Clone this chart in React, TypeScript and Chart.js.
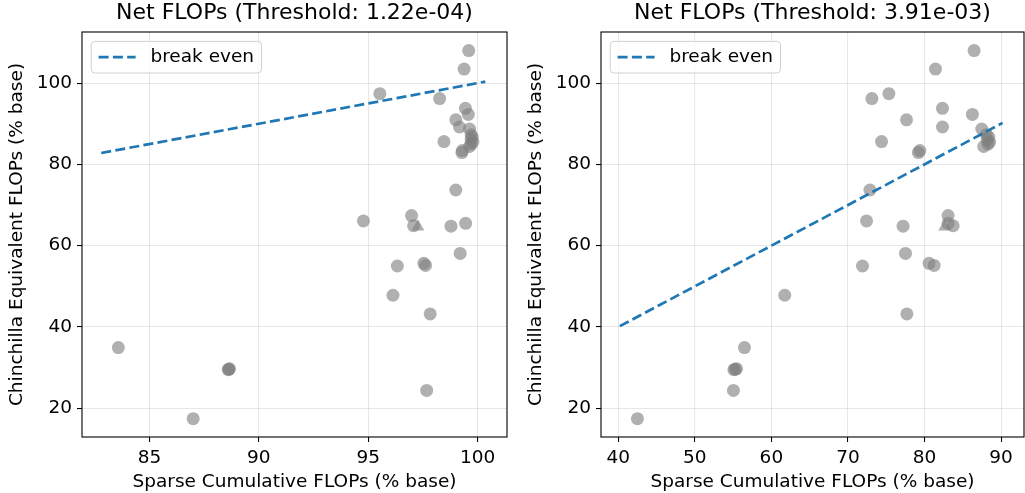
import React, { useEffect, useRef } from 'react';
import { Chart, registerables } from 'chart.js';

Chart.register(...registerables);

// Chinchilla equivalent FLOPs (% base) — shared by both panels
const chinchillaY = [
  108.0, 103.45, 97.4, 96.2, 93.8, 92.3, 90.96, 89.2, 88.7,
  87.3, 86.7, 86.1, 85.5, 85.0, 84.4, 85.6, 83.4, 82.9,
  73.7, 67.4, 66.1, 65.5, 64.9, 64.8, 58.1, 55.0, 55.65, 55.15,
  47.8, 43.2, 34.94, 29.5, 29.6, 29.7, 24.4, 17.44,
];

// Sparse cumulative FLOPs (% base), threshold 1.22e-04
const sparseXLow = [
  99.59, 99.38, 95.53, 98.26, 99.44, 99.57, 99.0, 99.17, 99.63,
  99.7, 99.75, 99.7, 99.78, 99.7, 99.63, 98.46, 99.3, 99.28,
  99.0, 96.98, 94.78, 99.45, 97.07, 98.78, 99.2, 96.33, 97.54, 97.62,
  96.13, 97.83, 83.58, 88.6, 88.63, 88.66, 97.67, 87.0,
];

// Sparse cumulative FLOPs (% base), threshold 3.91e-03
const sparseXHigh = [
  86.48, 81.44, 75.35, 73.13, 82.35, 86.26, 77.65, 82.35, 87.48,
  88.1, 88.4, 88.2, 88.5, 88.3, 87.74, 74.39, 79.39, 79.2,
  72.87, 83.08, 72.43, 83.08, 83.74, 77.2, 77.52, 71.9, 80.6, 81.26,
  61.74, 77.7, 56.48, 55.1, 55.26, 55.45, 55.04, 42.5,
];

// triangle marker
const triangleY = [64.66];
const triangleXLow = [97.27];
const triangleXHigh = [82.65];

// break-even (y = x) segments
const breakEvenLow = [82.8, 100.35];
const breakEvenHigh = [40.2, 90.2];

const yTicks = [20, 40, 60, 80, 100];
const xTicksLow = [85, 90, 95, 100];
const xTicksHigh = [40, 50, 60, 70, 80, 90];

const titles = ['Net FLOPs (Threshold: 1.22e-04)', 'Net FLOPs (Threshold: 3.91e-03)'];
const xLabel = 'Sparse Cumulative FLOPs (% base)';
const yLabel = 'Chinchilla Equivalent FLOPs (% base)';
const legendLabel = 'break even';

const FONT = "'DejaVu Sans', sans-serif";
const BLUE = '#1f77b4';
const POINT = 'rgba(128,128,128,0.62)';

const framePlugin = {
  id: 'frameBox',
  afterDatasetsDraw(chart: any) {
    const { ctx, chartArea: a } = chart;
    ctx.save();
    ctx.strokeStyle = '#000';
    ctx.lineWidth = 1.1;
    ctx.strokeRect(a.left, a.top, a.right - a.left, a.bottom - a.top);
    ctx.restore();
  },
};

const legendPlugin = {
  id: 'mplLegend',
  afterDraw(chart: any) {
    const { ctx, chartArea: a } = chart;
    const fs = 18.5;
    ctx.save();
    ctx.font = `${fs}px ${FONT}`;
    const ds = chart.data.datasets.find((d: any) => d.showLegendLine);
    const label = ds ? ds.label : '';
    const tw = ctx.measureText(label).width;
    const x0 = a.left + 9.2;
    const y0 = a.top + 9.4;
    const w = 7.4 + 37 + 14.8 + tw + 7.4;
    const h = 31.6;
    const r = 3.7;
    ctx.beginPath();
    ctx.moveTo(x0 + r, y0);
    ctx.lineTo(x0 + w - r, y0);
    ctx.arcTo(x0 + w, y0, x0 + w, y0 + r, r);
    ctx.lineTo(x0 + w, y0 + h - r);
    ctx.arcTo(x0 + w, y0 + h, x0 + w - r, y0 + h, r);
    ctx.lineTo(x0 + r, y0 + h);
    ctx.arcTo(x0, y0 + h, x0, y0 + h - r, r);
    ctx.lineTo(x0, y0 + r);
    ctx.arcTo(x0, y0, x0 + r, y0, r);
    ctx.closePath();
    ctx.fillStyle = 'rgba(255,255,255,0.8)';
    ctx.fill();
    ctx.strokeStyle = 'rgba(204,204,204,0.9)';
    ctx.lineWidth = 1;
    ctx.stroke();
    const cy = y0 + h / 2;
    ctx.beginPath();
    ctx.setLineDash([10, 4.3]);
    ctx.strokeStyle = BLUE;
    ctx.lineWidth = 2.7;
    ctx.moveTo(x0 + 7.4, cy);
    ctx.lineTo(x0 + 7.4 + 37, cy);
    ctx.stroke();
    ctx.setLineDash([]);
    ctx.fillStyle = '#000';
    ctx.textBaseline = 'middle';
    ctx.textAlign = 'left';
    ctx.fillText(label, x0 + 7.4 + 37 + 14.8, cy);
    ctx.restore();
  },
};

type PanelProps = {
  width: number;
  areaLeft: number;
  padRight: number;
  xMin: number;
  xMax: number;
  xs: number[];
  triX: number[];
  line: number[];
  xTicks: number[];
  title: string;
  yTitlePad: number;
};

function Panel(p: PanelProps) {
  const ref = useRef<HTMLCanvasElement | null>(null);
  useEffect(() => {
    if (!ref.current) return;
    const tickFont = { family: FONT, size: 18.5 };
    const chart = new Chart(ref.current, {
      type: 'scatter',
      data: {
        datasets: [
          {
            label: legendLabel,
            showLegendLine: true,
            type: 'line',
            data: p.line.map((v) => ({ x: v, y: v })),
            borderColor: BLUE,
            borderWidth: 2.7,
            borderDash: [10, 4.3],
            pointRadius: 0,
            fill: false,
            order: 0,
          } as any,
          {
            label: 'runs',
            data: p.xs.map((x, i) => ({ x, y: chinchillaY[i] })),
            backgroundColor: POINT,
            borderWidth: 0,
            pointRadius: 6.5,
            pointStyle: 'circle',
            order: 2,
          },
          {
            label: 'runs (triangle)',
            data: p.triX.map((x, i) => ({ x, y: triangleY[i] })),
            backgroundColor: POINT,
            borderWidth: 0,
            pointRadius: 7.5,
            pointStyle: 'triangle',
            order: 1,
          },
        ],
      },
      options: {
        animation: false,
        responsive: false,
        events: [],
        layout: {
          autoPadding: false,
          padding: { left: 0, right: p.padRight, top: 0, bottom: 0 },
        },
        plugins: {
          legend: { display: false },
          tooltip: { enabled: false },
          title: {
            display: true,
            text: p.title,
            fullSize: false,
            color: '#000',
            font: { family: FONT, size: 22, weight: 'normal', lineHeight: 1.2 },
            padding: { top: 0.5, bottom: 5.1 },
          },
        },
        scales: {
          x: {
            type: 'linear',
            position: 'bottom',
            min: p.xMin,
            max: p.xMax,
            afterBuildTicks: (axis: any) => {
              axis.ticks = p.xTicks.map((v) => ({ value: v }));
            },
            afterFit: (scale: any) => {
              scale.height = 56;
              scale.paddingLeft = 0;
              scale.paddingRight = 0;
            },
            ticks: { color: '#000', font: tickFont, padding: 5, autoSkip: false, maxRotation: 0 },
            grid: {
              color: 'rgba(176,176,176,0.3)',
              lineWidth: 1.07,
              tickColor: '#000',
              tickLength: 5,
              tickWidth: 1.07,
            },
            border: { display: false },
            title: {
              display: true,
              text: xLabel,
              color: '#000',
              font: tickFont,
              padding: { top: 0, bottom: 0 },
            },
          },
          y: {
            type: 'linear',
            position: 'left',
            min: 12.93,
            max: 112.57,
            afterBuildTicks: (axis: any) => {
              axis.ticks = yTicks.map((v) => ({ value: v }));
            },
            afterFit: (scale: any) => {
              scale.width = p.areaLeft;
              scale.paddingTop = 0;
              scale.paddingBottom = 0;
            },
            ticks: { color: '#000', font: tickFont, padding: 5 },
            grid: {
              color: 'rgba(176,176,176,0.3)',
              lineWidth: 1.07,
              tickColor: '#000',
              tickLength: 5,
              tickWidth: 1.07,
            },
            border: { display: false },
            title: {
              display: true,
              text: yLabel,
              color: '#000',
              font: tickFont,
              padding: { top: p.yTitlePad, bottom: 0 },
            },
          },
        },
      } as any,
      plugins: [framePlugin, legendPlugin],
    });
    return () => chart.destroy();
  }, []);
  return (
    <canvas
      ref={ref}
      width={p.width}
      height={493}
      style={{ width: p.width, height: 493, display: 'block', flex: 'none' }}
    />
  );
}

export default function App() {
  useEffect(() => {
    document.body.style.margin = '0';
  }, []);
  return (
    <div
      style={{
        position: 'absolute',
        left: 0,
        top: 0,
        width: 1025,
        height: 493,
        display: 'flex',
        background: '#fff',
      }}
    >
      <Panel
        width={512}
        areaLeft={82}
        padRight={5}
        xMin={81.92}
        xMax={101.34}
        xs={sparseXLow}
        triX={triangleXLow}
        line={breakEvenLow}
        xTicks={xTicksLow}
        title={titles[0]}
        yTitlePad={6.4}
      />
      <Panel
        width={513}
        areaLeft={89}
        padRight={1}
        xMin={37.74}
        xMax={93.0}
        xs={sparseXHigh}
        triX={triangleXHigh}
        line={breakEvenHigh}
        xTicks={xTicksHigh}
        title={titles[1]}
        yTitlePad={12.7}
      />
    </div>
  );
}
